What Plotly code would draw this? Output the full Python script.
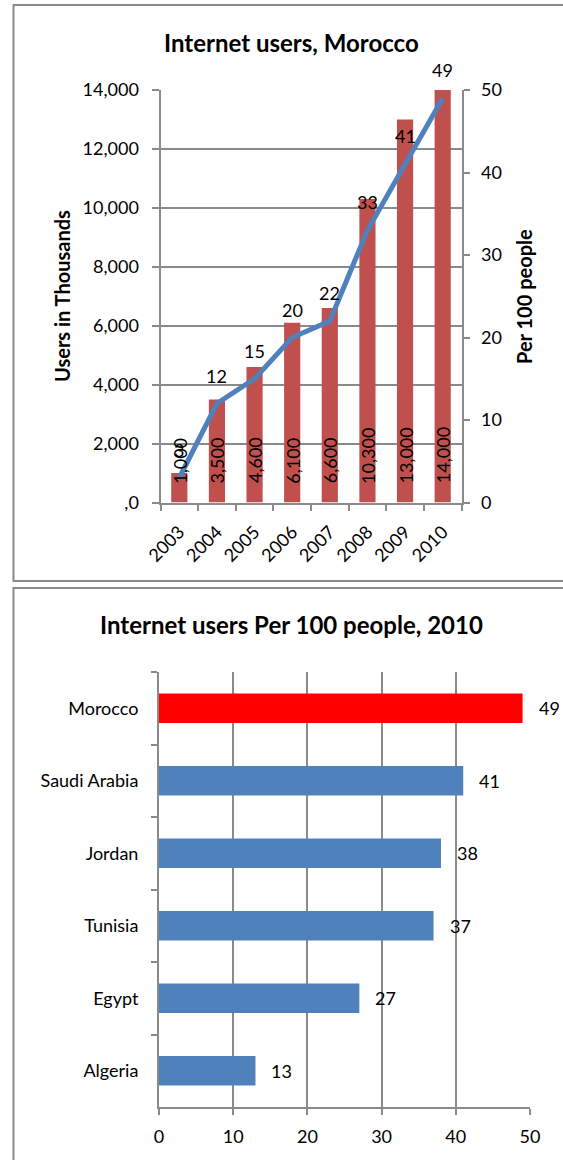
import plotly.graph_objects as go

# ---- data ----
years = ["2003", "2004", "2005", "2006", "2007", "2008", "2009", "2010"]
users_thousands = [1000, 3500, 4600, 6100, 6600, 10300, 13000, 14000]
users_per_100 = [3, 12, 15, 20, 22, 33, 41, 49]

left_tick_values = [0, 2000, 4000, 6000, 8000, 10000, 12000, 14000]
left_tick_labels = [",0", "2,000", "4,000", "6,000", "8,000", "10,000", "12,000", "14,000"]
right_tick_values = [0, 10, 20, 30, 40, 50]

countries = ["Morocco", "Saudi Arabia", "Jordan", "Tunisia", "Egypt", "Algeria"]
per_100_2010 = [49, 41, 38, 37, 27, 13]
bottom_tick_values = [0, 10, 20, 30, 40, 50]

# ---- page geometry (pixels) ----
W, H = 563, 1160


def px(x):
    return x / W


def py(y):
    return 1 - y / H


FONT = "Lato"
GRID = "#8a8a8a"
RED_BAR = "#C0504D"
BLUE = "#4F81BD"

fig = go.Figure()

# Users in thousands (columns)
fig.add_trace(go.Bar(
    x=years, y=users_thousands, xaxis="x", yaxis="y",
    marker=dict(color=RED_BAR, line=dict(width=0)), width=0.43,
))

# Users per 100 people (line on the secondary axis)
fig.add_trace(go.Scatter(
    x=years, y=users_per_100, xaxis="x", yaxis="y2", mode="lines",
    line=dict(color=BLUE, width=5),
))

# 2010 comparison across countries (horizontal bars)
bar_colors = ["#FF0000" if c == "Morocco" else BLUE for c in countries]
fig.add_trace(go.Bar(
    x=per_100_2010, y=countries, orientation="h", xaxis="x3", yaxis="y3",
    marker=dict(color=bar_colors, line=dict(width=0)), width=0.41,
))

annotations = []

# column values, rotated, sitting at the base of each column
for i, v in enumerate(users_thousands):
    annotations.append(dict(
        x=i, y=0, xref="x", yref="y", text=f"{v:,}", textangle=-90,
        showarrow=False, xanchor="center", yanchor="bottom", yshift=17,
        font=dict(family=FONT, size=18, color="black"),
    ))

# line values above each point
for i, v in enumerate(users_per_100):
    annotations.append(dict(
        x=i, y=v, xref="x", yref="y2", text=str(v), showarrow=False,
        xanchor="center", yanchor="middle", yshift=28,
        font=dict(family=FONT, size=18, color="black"),
    ))

# horizontal bar values
for i, v in enumerate(per_100_2010):
    annotations.append(dict(
        x=v, y=i, xref="x3", yref="y3", text=str(v), showarrow=False,
        xanchor="left", yanchor="middle", xshift=14,
        font=dict(family=FONT, size=18, color="black"),
    ))

# titles
annotations += [
    dict(x=px(291), y=py(42), xref="paper", yref="paper", showarrow=False,
         text="<b>Internet users, Morocco</b>", xanchor="center", yanchor="middle",
         font=dict(family=FONT, size=24, color="black")),
    dict(x=px(62), y=py(296), xref="paper", yref="paper", showarrow=False,
         text="<b>Users in Thousands</b>", textangle=-90, xanchor="center", yanchor="middle",
         font=dict(family=FONT, size=20, color="black")),
    dict(x=px(524), y=py(297), xref="paper", yref="paper", showarrow=False,
         text="<b>Per 100 people</b>", textangle=-90, xanchor="center", yanchor="middle",
         font=dict(family=FONT, size=20, color="black")),
    dict(x=px(291), y=py(624), xref="paper", yref="paper", showarrow=False,
         text="<b>Internet users Per 100 people, 2010</b>", xanchor="center", yanchor="middle",
         font=dict(family=FONT, size=24, color="black")),
]

tick_font = dict(family=FONT, size=18, color="black")

fig.update_layout(
    width=W, height=H,
    margin=dict(l=0, r=0, t=0, b=0),
    paper_bgcolor="white", plot_bgcolor="rgba(0,0,0,0)",
    showlegend=False,
    font=dict(family=FONT, size=18, color="black"),
    annotations=annotations,
    xaxis=dict(
        domain=[px(160.5), px(461.5)], anchor="y", type="category",
        categoryorder="array", categoryarray=years, range=[-0.5, len(years) - 0.5],
        tickson="boundaries", ticks="outside", ticklen=6, tickwidth=2, tickcolor=GRID,
        showline=True, linecolor=GRID, linewidth=2, showgrid=False,
        tickangle=-45, tickfont=tick_font, ticklabelstandoff=10, automargin=False,
    ),
    yaxis=dict(
        domain=[py(502.5), py(90)], anchor="x", range=[0, 14000],
        tickvals=left_tick_values, ticktext=left_tick_labels,
        ticks="outside", ticklen=7, tickwidth=2, tickcolor=GRID,
        showline=True, linecolor=GRID, linewidth=2,
        showgrid=True, gridcolor=GRID, gridwidth=2, zeroline=False,
        tickfont=tick_font, ticklabelstandoff=9, automargin=False,
    ),
    yaxis2=dict(
        overlaying="y", side="right", anchor="x", range=[0, 50],
        tickvals=right_tick_values,
        ticks="outside", ticklen=6, tickwidth=2, tickcolor=GRID,
        showline=True, linecolor=GRID, linewidth=2,
        showgrid=False, zeroline=False,
        tickfont=tick_font, ticklabelstandoff=8, automargin=False,
    ),
    xaxis3=dict(
        domain=[px(159), px(530)], anchor="y3", range=[0, 50],
        tickvals=bottom_tick_values,
        ticks="outside", ticklen=6, tickwidth=2, tickcolor=GRID,
        showline=True, linecolor=GRID, linewidth=2,
        showgrid=True, gridcolor=GRID, gridwidth=2, zeroline=False,
        tickfont=tick_font, ticklabelstandoff=6, automargin=False,
    ),
    yaxis3=dict(
        domain=[py(1107), py(672)], anchor="x3", type="category",
        categoryorder="array", categoryarray=countries,
        range=[len(countries) - 0.5, -0.5],
        tickson="boundaries", ticks="outside", ticklen=6, tickwidth=2, tickcolor=GRID,
        showline=True, linecolor=GRID, linewidth=2, showgrid=False,
        tickfont=tick_font, ticklabelstandoff=15, automargin=False,
    ),
    shapes=[
        dict(type="rect", xref="paper", yref="paper",
             x0=px(13.5), x1=px(575), y0=py(581), y1=py(5),
             line=dict(color=GRID, width=2), fillcolor="rgba(0,0,0,0)", layer="below"),
        dict(type="rect", xref="paper", yref="paper",
             x0=px(13.5), x1=px(575), y0=py(1175), y1=py(588),
             line=dict(color=GRID, width=2), fillcolor="rgba(0,0,0,0)", layer="below"),
    ],
)

fig.write_html("out.html")
